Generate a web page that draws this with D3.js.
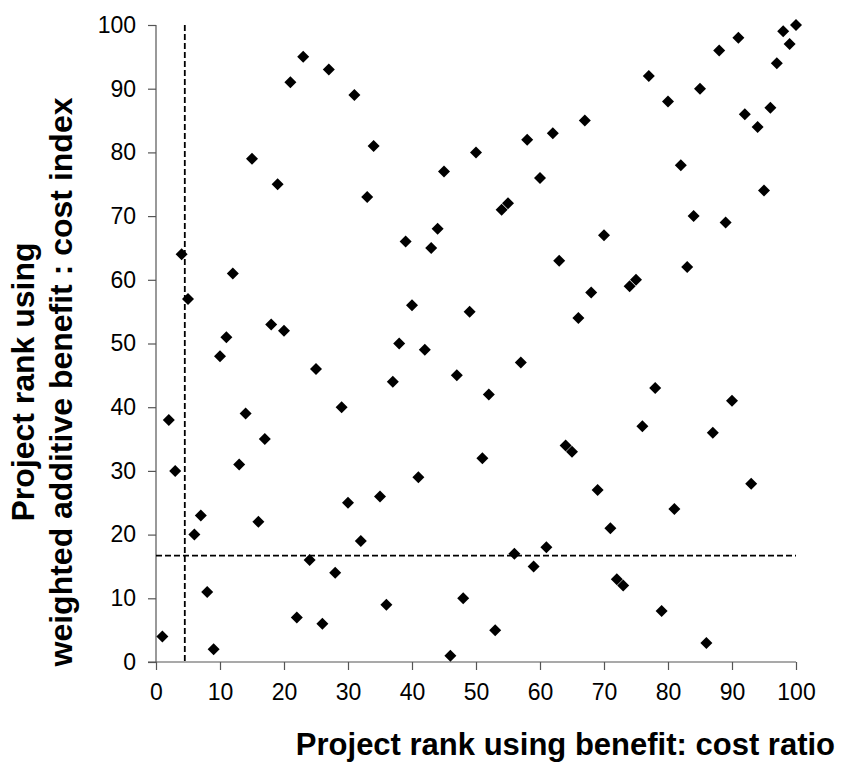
<!DOCTYPE html>
<html>
<head>
<meta charset="utf-8">
<script src="https://cdn.jsdelivr.net/npm/d3@7"></script>
<style>
  body { margin: 0; background: #fff; }
  text { font-family: Arial, "Liberation Sans", sans-serif; }
</style>
</head>
<body>
<div id="wrapper"></div>
<script>
// rank using benefit:cost ratio (x) -> rank using weighted additive benefit:cost index (y)
var ratioRank = d3.range(1, 101)
var indexRank = [4, 38, 30, 64, 57, 20, 23, 11, 2, 48,
    51, 61, 31, 39, 79, 22, 35, 53, 75, 52,
    91, 7, 95, 16, 46, 6, 93, 14, 40, 25,
    89, 19, 73, 81, 26, 9, 44, 50, 66, 56,
    29, 49, 65, 68, 77, 1, 45, 10, 55, 80,
    32, 42, 5, 71, 72, 17, 47, 82, 15, 76,
    18, 83, 63, 34, 33, 54, 85, 58, 27, 67,
    21, 13, 12, 59, 60, 37, 92, 43, 8, 88,
    24, 78, 62, 70, 90, 3, 36, 96, 69, 41,
    98, 86, 28, 84, 74, 87, 94, 99, 97, 100]
var xTicks = [0, 10, 20, 30, 40, 50, 60, 70, 80, 90, 100]
var yTicks = [0, 10, 20, 30, 40, 50, 60, 70, 80, 90, 100]
var cutX = 4.5   // vertical dashed cut-off
var cutY = 16.7  // horizontal dashed cut-off

var points = ratioRank.map((r, i) => ({x: r, y: indexRank[i]}))

var dimension = {
    width: 841,
    height: 762,
    margin: {top: 25, right: 45, bottom: 100, left: 156}
}
dimension.boundedWidth = dimension.width - dimension.margin.left - dimension.margin.right
dimension.boundedHeight = dimension.height - dimension.margin.top - dimension.margin.bottom

var svg = d3.select("#wrapper")
    .append("svg")
    .attr("width", dimension.width)
    .attr("height", dimension.height)

var g = svg.append("g")
    .attr("transform", `translate(${dimension.margin.left},${dimension.margin.top})`)

var x = d3.scaleLinear().domain([0, 100]).range([0, 640])
var y = d3.scaleLinear().domain([0, 100]).range([637, 0])

// axes
var xAxis = g.append("g")
    .attr("transform", `translate(0,${y(0)})`)
    .call(d3.axisBottom(x).tickValues(xTicks).tickSize(8).tickPadding(14))
var yAxis = g.append("g")
    .call(d3.axisLeft(y).tickValues(yTicks).tickSize(8).tickPadding(12))

;[xAxis, yAxis].forEach(ax => {
    ax.select(".domain").attr("stroke", "#555").attr("stroke-width", 1.2)
    ax.selectAll(".tick line").attr("stroke", "#555").attr("stroke-width", 1.2)
    ax.selectAll(".tick text")
        .attr("fill", "#000")
        .style("font-size", "23px")
        .style("font-family", "Arial, 'Liberation Sans', sans-serif")
})
// the x domain line starts at the left tick too
xAxis.select(".domain").attr("d", `M-8,0H${x(100)}`)
yAxis.select(".domain").attr("d", `M0,${y(100)}V${y(0)}`)

// dashed cut-off lines
g.append("line")
    .attr("x1", x(cutX)).attr("x2", x(cutX))
    .attr("y1", y(100)).attr("y2", y(0))
    .attr("stroke", "#000").attr("stroke-width", 1.8)
    .attr("stroke-dasharray", "6,3")
g.append("line")
    .attr("x1", x(0)).attr("x2", x(100))
    .attr("y1", y(cutY)).attr("y2", y(cutY))
    .attr("stroke", "#000").attr("stroke-width", 1.8)
    .attr("stroke-dasharray", "6,3")

// diamond markers
var diamond = d3.symbol().type(d3.symbolSquare).size(72)
g.append("g")
    .selectAll("path")
    .data(points)
    .enter()
    .append("path")
    .attr("d", diamond)
    .attr("transform", d => `translate(${x(d.x)},${y(d.y)}) rotate(45)`)
    .attr("fill", "#000")

// axis titles
svg.append("text")
    .attr("x", 835)
    .attr("y", 755)
    .attr("text-anchor", "end")
    .style("font-size", "31px")
    .style("font-weight", "bold")
    .text("Project rank using benefit: cost ratio")

var yTitle = svg.append("text")
    .attr("transform", "translate(0,382) rotate(-90)")
    .attr("text-anchor", "middle")
    .style("font-size", "32px")
    .style("font-weight", "bold")
yTitle.append("tspan").attr("x", 0).attr("y", 34).text("Project rank using")
yTitle.append("tspan").attr("x", 0).attr("y", 72).text("weighted additive benefit : cost index")
</script>
</body>
</html>
